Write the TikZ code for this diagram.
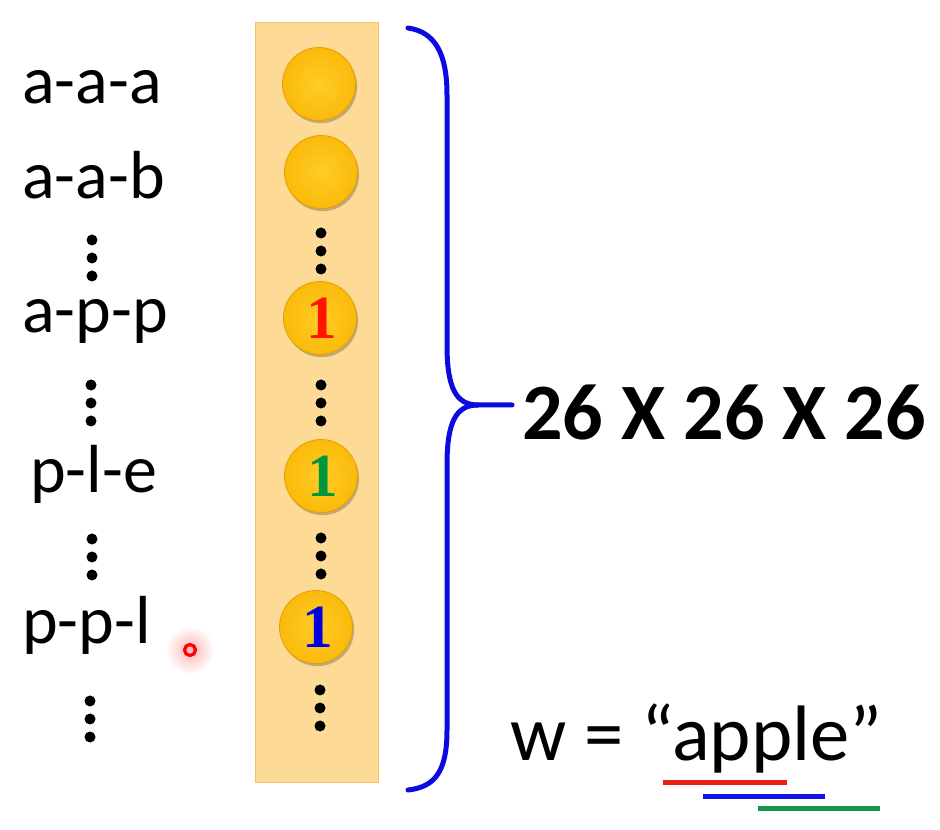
\documentclass[tikz,border=0pt]{standalone}
\usepackage{fontspec}
\setmainfont{Carlito}
\newfontfamily\oneserif{Liberation Serif}
\usetikzlibrary{shadows}
\definecolor{colfill}{RGB}{253,218,150}
\definecolor{colline}{RGB}{246,196,100}
\definecolor{gold}{RGB}{250,186,10}
\definecolor{goldlt}{RGB}{255,204,40}
\definecolor{goldedge}{RGB}{228,160,0}
\definecolor{bracecol}{RGB}{10,10,225}
\definecolor{onered}{RGB}{255,20,0}
\definecolor{onegreen}{RGB}{0,150,60}
\definecolor{oneblue}{RGB}{0,0,230}
\definecolor{ulred}{RGB}{235,30,20}
\definecolor{ulblue}{RGB}{20,20,230}
\definecolor{ulgreen}{RGB}{20,150,70}
\tikzset{
  x=0.75pt, y=-0.75pt,
  lab/.style={anchor=base west, inner sep=0pt, font=\fontsize{51}{52}\selectfont},
  ball/.style={circle, minimum size=73*0.75pt, inner sep=0pt, draw=goldedge, line width=0.6pt,
    inner color=goldlt, outer color=gold,
    drop shadow={shadow xshift=1.2pt, shadow yshift=-2pt, opacity=0.35, fill=black!70}},
  one/.style={font=\fontsize{46}{46}\selectfont\oneserif\bfseries},
  vdot/.style={circle, fill=black, inner sep=0pt, minimum size=11*0.75pt},
  ul/.style={line width=5*0.75pt},
}
\newcommand{\mydots}[3]{%
  \node[vdot] (#1a) at (#2,#3) {};
  \node[vdot] (#1b) at (#2,#3+18) {};
  \node[vdot] (#1c) at (#2,#3+36) {};
}
\begin{document}
\begin{tikzpicture}
\useasboundingbox[fill=white] (0,0) rectangle (940,830);
% column box
\node[draw=colline, fill=colfill, line width=1pt, minimum width=123*0.75pt, minimum height=760*0.75pt, inner sep=0pt] (col) at (317,402.5) {};
% balls
\node[ball] (b1) at (319,84) {};
\node[ball] (b2) at (321,172) {};
\node[ball] (b3) at (320,318) {};
\node[ball] (b4) at (321,476) {};
\node[ball] (b5) at (316,627) {};
\node[one, text=onered] at ([xshift=1pt]b3) {1};
\node[one, text=onegreen] at ([xshift=1pt]b4) {1};
\node[one, text=oneblue] at ([xshift=1pt]b5) {1};
% column dots
\mydots{c1}{321}{233}
\mydots{c2}{321}{385}
\mydots{c3}{321}{538}
\mydots{c4}{320}{690}
% left dots
\mydots{l1}{92}{240}
\mydots{l2}{91}{385}
\mydots{l3}{92}{539}
\mydots{l4}{90}{701}
% labels
\node[lab] (t1) at (22,104) {a-a-a};
\node[lab] (t2) at (22,199) {a-a-b};
\node[lab] (t3) at (22,333) {a-p-p};
\node[lab] (t4) at (30,493) {p-l-e};
\node[lab] (t5) at (22,643) {p-p-l};
% cursor
\shade[inner color=red!30, outer color=white] (190,650) circle (24);
\draw[red, line width=2.4pt] (190,650) circle (5.5);
% brace
\draw[bracecol, line width=5*0.75pt, line cap=round]
  (408,28) .. controls (436,32) and (447,55) .. (447,95) -- (447,345)
  .. controls (447,388) and (456,405) .. (478,405) -- (512,405);
\draw[bracecol, line width=5*0.75pt, line cap=round]
  (478,405) .. controls (456,405) and (447,422) .. (447,465) -- (447,730)
  .. controls (447,770) and (436,787) .. (408,790);
\coordinate (tip) at (512,405);
\node[anchor=base west, inner sep=0pt, font=\fontsize{60}{60}\selectfont\bfseries] (dim) at (522,440) {26 X 26 X 26};
% w = apple
\node[anchor=base west, inner sep=0pt, font=\fontsize{59}{59}\selectfont] (w) at (510,760) {w = “apple”};
\draw[ulred, ul] (663,782) -- (787,782);
\draw[ulblue, ul] (703,796) -- (825,796);
\draw[ulgreen, ul] (758,808) -- (880,808);
\end{tikzpicture}
\end{document}
